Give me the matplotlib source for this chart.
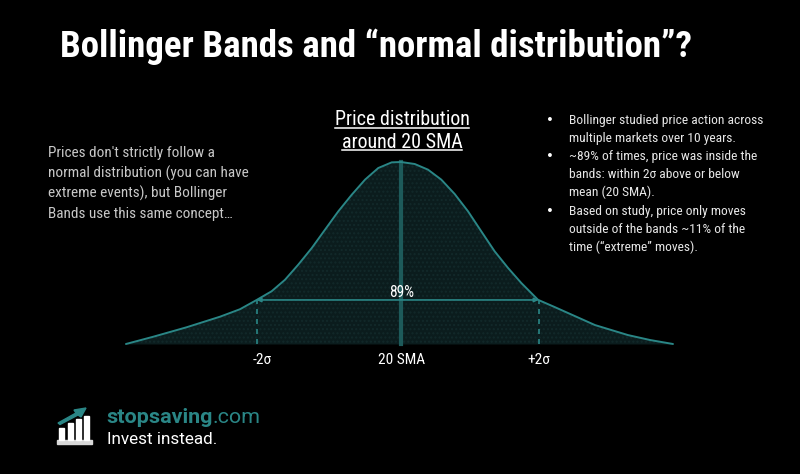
import matplotlib
matplotlib.use("Agg")
import matplotlib.pyplot as plt
from matplotlib import font_manager
from matplotlib.patches import Rectangle, Polygon
from matplotlib.transforms import blended_transform_factory

# curve: x in sigma units from the 20 SMA, height relative to the peak
curve_x = [-3.887, -3.499, -3.026, -2.553, -2.270, -2.033, -1.820, -1.631, -1.443, -1.252,
           -1.064, -0.875, -0.685, -0.496, -0.308, -0.118, 0.014, 0.209, 0.397, 0.586,
           0.776, 0.965, 1.153, 1.343, 1.532, 1.721, 1.957, 2.194, 2.766, 3.234,
           3.546, 3.872]
curve_y = [0.0, 0.040, 0.092, 0.150, 0.191, 0.242, 0.290, 0.353, 0.436, 0.527,
           0.628, 0.729, 0.820, 0.903, 0.967, 0.998, 1.000, 0.989, 0.958, 0.903,
           0.824, 0.729, 0.619, 0.509, 0.418, 0.335, 0.243, 0.203, 0.104, 0.049,
           0.022, 0.0]

band_x = [-2.033, 1.965]
band_level = 0.242
band_label = "89%"
peak_x = 0.02
tick_pos = [-1.96, 0.02, 1.97]
tick_labels = ["-2σ", "20 SMA", "+2σ"]

title = "Bollinger Bands and \u201cnormal distribution\u201d?"
left_note = ["Prices don't strictly follow a",
             "normal distribution (you can have",
             "extreme events), but Bollinger",
             "Bands use this same concept\u2026"]
heading = ["Price distribution", "around 20 SMA"]
bullets = [["Bollinger studied price action across",
            "multiple markets over 10 years."],
           ["~89% of times, price was inside the",
            "bands: within 2σ above or below",
            "mean (20 SMA)."],
           ["Based on study, price only moves",
            "outside of the bands ~11% of the",
            "time (\u201cextreme\u201d moves)."]]

W, H = 800, 474
TEAL = "#2a8686"
DARK = "#0b1c1d"

installed = set(f.name for f in font_manager.fontManager.ttflist)
NARROW = "DejaVu Sans"
for cand in ["Roboto Condensed", "Archivo Narrow", "Barlow Condensed"]:
    if cand in installed:
        NARROW = cand
        break
FONT = dict(family=[NARROW, "DejaVu Sans"], stretch="condensed")
LOGO = dict(family=["Roboto", "DejaVu Sans"])

fig = plt.figure(figsize=(W / 100, H / 100), dpi=100, facecolor="black")
renderer = fig.canvas.get_renderer()


def fx(px):
    return px / W


def fy(py):
    return 1 - py / H


def fit_size(text, width_px, **kw):
    t = fig.text(0, 0, text, fontsize=10, **kw)
    w = t.get_window_extent(renderer).width
    t.remove()
    return 10 * width_px / w


# axes spans the whole figure; 70.5 px per sigma, 182 px per unit height
ax = fig.add_axes([0, 0, 1, 1])
ax.set_facecolor("black")
ax.set_xlim(-400 / 70.5, 400 / 70.5)
ax.set_ylim(-130 / 182, 344 / 182)
ax.axis("off")

ax.fill_between(curve_x, 0, curve_y, color=DARK, lw=0, zorder=1)
ax.fill_between(curve_x, 0, curve_y, facecolor="none", edgecolor="#12292a",
                hatch="....", lw=0, zorder=1)
ax.plot(curve_x, curve_y, color=TEAL, lw=1.4, zorder=3,
        solid_joinstyle="round", solid_capstyle="round")
ax.plot([peak_x, peak_x], [0, 1.0], color="#1d5a5a", lw=3, zorder=2)
for bx in band_x:
    ax.plot([bx, bx], [0, band_level], color=TEAL, lw=1.2, ls=(0, (3, 3)), zorder=2)
ax.annotate("", xy=(band_x[0], band_level), xytext=(band_x[1], band_level),
            arrowprops=dict(arrowstyle="<|-|>", color=TEAL, lw=1.2,
                            mutation_scale=6, shrinkA=0, shrinkB=0), zorder=3)

tr = blended_transform_factory(ax.transData, fig.transFigure)
fs = fit_size(band_label, 25, **FONT)
ax.text(peak_x, fy(297), band_label, transform=tr, color="white", fontsize=fs,
        ha="center", va="baseline", zorder=4, **FONT)

fs = fit_size("20 SMA", 47, **FONT)
for x, lab in zip(tick_pos, tick_labels):
    ax.text(x, fy(364), lab, transform=tr, color="white", fontsize=fs,
            ha="center", va="baseline", **FONT)

fs = fit_size(title, 633, fontweight="bold", **FONT)
fig.text(fx(60), fy(57), title, color="white", fontsize=fs, fontweight="bold",
         ha="left", va="baseline", **FONT)

fs = fit_size(left_note[1], 200, **FONT)
for i, line in enumerate(left_note):
    fig.text(fx(48), fy(157 + i * 20.4), line, color="#c8c8c8", fontsize=fs,
             ha="left", va="baseline", **FONT)

fs = fit_size(heading[0], 134, **FONT)
for i, line in enumerate(heading):
    base = 125 + i * 22.5
    t = fig.text(fx(402), fy(base), line, color="white", fontsize=fs,
                 ha="center", va="baseline", **FONT)
    bb = t.get_window_extent(renderer)
    uy = fy(base + 2.5)
    fig.add_artist(plt.Line2D([bb.x0 / W, bb.x1 / W], [uy, uy],
                              color="white", lw=1.1, transform=fig.transFigure))

fs = fit_size(bullets[0][0], 193, **FONT)
row = 0
for item in bullets:
    for j, line in enumerate(item):
        y = fy(124 + row * 18.1)
        if j == 0:
            fig.text(fx(546), y, "\u2022", color="white", fontsize=fs,
                     family=["DejaVu Sans"], ha="left", va="baseline")
        fig.text(fx(569), y, line, color="#e6e6e6", fontsize=fs,
                 ha="left", va="baseline", **FONT)
        row += 1

# logo
fig.add_artist(Rectangle((fx(57), fy(444)), 35 / W, 4 / H, color="#d8d8d8",
                         transform=fig.transFigure))
for bx0, top in [(59, 428), (68, 423), (76, 419), (84, 416)]:
    fig.add_artist(Rectangle((fx(bx0), fy(440)), 5 / W, (440 - top) / H,
                             color="white", transform=fig.transFigure))
fig.add_artist(Polygon([(fx(58), fy(423)), (fx(76), fy(413)), (fx(74), fy(410)),
                        (fx(86), fy(408)), (fx(81), fy(417)), (fx(78), fy(415)),
                        (fx(60), fy(424.5))], closed=True, color=TEAL,
                       transform=fig.transFigure))
fs = fit_size("stopsaving.com", 153, **LOGO)
t1 = fig.text(fx(106), fy(423), "stopsaving", color=TEAL, fontsize=fs,
              fontweight="bold", ha="left", va="baseline", **LOGO)
bb = t1.get_window_extent(renderer)
fig.text(bb.x1 / W, fy(423), ".com", color=TEAL, fontsize=fs,
         ha="left", va="baseline", **LOGO)
fs = fit_size("Invest instead.", 111, **LOGO)
fig.text(fx(107), fy(444), "Invest instead.", color="white", fontsize=fs,
         ha="left", va="baseline", **LOGO)

fig.savefig("out.png", dpi=100, facecolor="black")
